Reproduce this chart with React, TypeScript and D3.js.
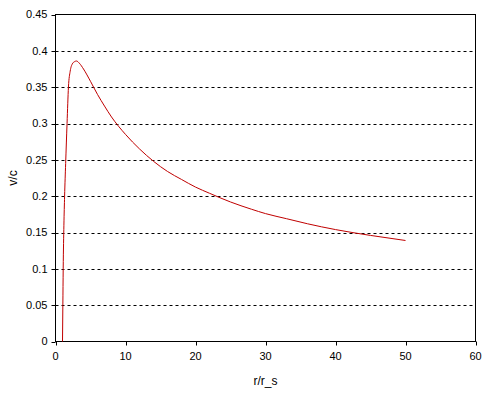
import React from "react";
import * as d3 from "d3";

const rValues = [1, 1.05, 1.1, 1.2, 1.3, 1.45, 1.65, 1.85, 2.1, 2.4, 2.7, 3, 3.4, 4, 5, 6, 7, 8, 10, 12, 14, 16, 18, 20, 22, 25, 28, 30, 33, 36, 40, 45, 50];
const vValues = [0, 0.05, 0.1, 0.16, 0.2, 0.245, 0.3, 0.35, 0.372, 0.382, 0.385, 0.386, 0.383, 0.375, 0.358, 0.34, 0.324, 0.309, 0.285, 0.265, 0.248, 0.234, 0.223, 0.2125, 0.204, 0.192, 0.182, 0.176, 0.169, 0.162, 0.154, 0.146, 0.139];
const xTicks = [0, 10, 20, 30, 40, 50, 60];
const yTicks = [0, 0.05, 0.1, 0.15, 0.2, 0.25, 0.3, 0.35, 0.4, 0.45];
const xTitle = "r/r_s";
const yTitle = "v/c";

const W = 488, H = 393;
const left = 55.5, right = 475.5, top = 14.5, bottom = 341.5;

export default function App() {
  const x = d3.scaleLinear().domain([0, 60]).range([left, right]);
  const y = d3.scaleLinear().domain([0, 0.45]).range([bottom, top]);
  const pts: [number, number][] = rValues.map((r, i) => [r, vValues[i]]);
  const line = d3.line<[number, number]>().x(d => x(d[0])).y(d => y(d[1])).curve(d3.curveMonotoneX);
  const font = "'Liberation Sans', Arial, sans-serif";
  return (
    <svg width={W} height={H} style={{ position: "absolute", left: 0, top: 0, background: "#fff" }} fontFamily={font}>
      <rect x={0} y={0} width={W} height={H} fill="#fff" />
      {yTicks.slice(1, -1).map(t => (
        <line key={"g" + t} x1={left} x2={right} y1={Math.round(y(t)) + 0.5} y2={Math.round(y(t)) + 0.5} stroke="#000" strokeDasharray="3,3" />
      ))}
      <rect x={left} y={top} width={right - left} height={bottom - top} fill="none" stroke="#000" strokeWidth={1} />
      {yTicks.map(t => (
        <g key={"y" + t}>
          <line x1={left - 4} x2={left} y1={Math.round(y(t)) + 0.5} y2={Math.round(y(t)) + 0.5} stroke="#000" />
          <text x={left - 8} y={y(t)} dy="0.35em" textAnchor="end" fontSize={11} fill="#000">{t}</text>
        </g>
      ))}
      {xTicks.map(t => (
        <g key={"x" + t}>
          <line x1={Math.round(x(t)) + 0.5} x2={Math.round(x(t)) + 0.5} y1={bottom} y2={bottom + 4} stroke="#000" />
          <text x={x(t)} y={bottom + 18} textAnchor="middle" fontSize={11} fill="#000">{t}</text>
        </g>
      ))}
      <path d={line(pts) || ""} fill="none" stroke="#c00000" strokeWidth={1} />
      <text x={(left + right) / 2} y={385} textAnchor="middle" fontSize={12} fill="#000">{xTitle}</text>
      <text transform={`translate(17,178) rotate(-90)`} textAnchor="middle" fontSize={12} fill="#000">{yTitle}</text>
    </svg>
  );
}
